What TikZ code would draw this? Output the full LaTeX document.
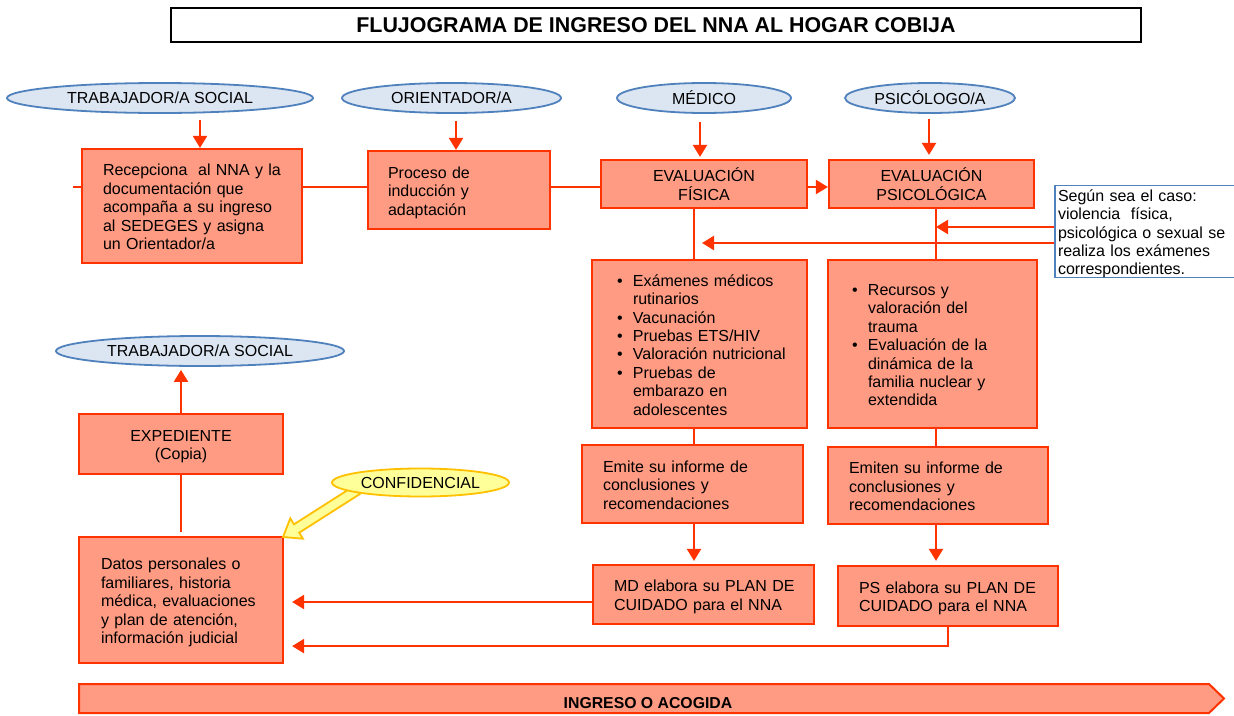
\documentclass[tikz,border=0pt]{standalone}
\usepackage{fontspec}
\setmainfont{Liberation Sans}
\usetikzlibrary{arrows.meta,calc,shapes.geometric}
\definecolor{lred}{HTML}{FF3300}
\definecolor{bfill}{HTML}{FF9B82}
\definecolor{eblue}{HTML}{4F81BD}
\definecolor{efill}{HTML}{DCE6F2}
\definecolor{cyel}{HTML}{FFFF99}
\definecolor{cgold}{HTML}{FFC000}
\newcommand\bitem{\makebox[16pt][l]{\textbullet}}
\newcommand\bcont{\hspace*{16pt}}
\newcommand\txtlines[2][l]{\raisebox{-3pt}[\height][\depth]{\begin{tabular}{@{}#1@{}}#2\end{tabular}}}
\begin{document}
\begin{tikzpicture}[x=1pt,y=-1pt,
  every node/.style={font=\fontsize{16}{18.4}\selectfont},
  box/.style={draw=lred, fill=bfill, line width=2.2pt, inner ysep=0pt, align=left},
  cbox/.style={draw=lred, fill=bfill, line width=2.2pt, inner ysep=0pt, align=center},
  role/.style={ellipse, draw=eblue, fill=efill, line width=1.8pt, inner sep=0pt, minimum height=30pt},
  link/.style={draw=lred, line width=2.2pt},
  arr/.style={draw=lred, line width=2.2pt, -{Triangle[length=12pt,width=14pt]}},
]
\useasboundingbox (0,0) rectangle (1234,715);
\fill[white] (0,0) rectangle (1234,715);
\clip (0,0) rectangle (1234,715);

% title
\node[draw=black, line width=1.6pt, minimum width=970pt, minimum height=34pt, inner sep=0pt,
      font=\bfseries\fontsize{21.4}{25}\selectfont] (title) at (656,25)
      {FLUJOGRAMA DE INGRESO DEL NNA AL HOGAR COBIJA};

% roles
\node[role, minimum width=306pt] (ts1) at (160,98) {TRABAJADOR/A SOCIAL};
\node[role, minimum width=219pt] (ori) at (451.5,98) {ORIENTADOR/A};
\node[role, minimum width=174pt] (med) at (704,98) {MÉDICO};
\node[role, minimum width=170pt] (psi) at (930,98) {PSICÓLOGO/A};
\node[role, minimum width=288pt] (ts2) at (200,351) {TRABAJADOR/A SOCIAL};

% boxes
\node[box, text width=178pt, inner xsep=21pt, minimum height=114pt] (recep) at (192,206)
  {\txtlines{Recepciona~ al NNA y la\\documentación que\\acompaña a su ingreso\\al SEDEGES y asigna\\un Orientador/a}};
\node[box, text width=142pt, inner xsep=20pt, minimum height=78pt] (proc) at (459,190)
  {\txtlines{Proceso de\\inducción y\\adaptación}};
\node[cbox, minimum width=206pt, minimum height=48pt] (fis) at (704,184) {\txtlines[c]{EVALUACIÓN\\FÍSICA}};
\node[cbox, minimum width=205pt, minimum height=48pt] (psic) at (931.5,184) {\txtlines[c]{EVALUACIÓN\\PSICOLÓGICA}};

\node[draw=eblue, line width=1.8pt, fill=white, text width=184pt, inner xsep=3pt, inner ysep=0pt,
      minimum height=91pt, align=left] (note) at (1150,231.5)
  {\txtlines{Según sea el caso:\\violencia~ física,\\psicológica o sexual se\\realiza los exámenes\\correspondientes.}};

\node[box, text width=165pt, inner xsep=25pt, minimum height=168pt] (exam) at (699.5,344)
  {\txtlines{\bitem Exámenes médicos\\\bcont rutinarios\\\bitem Vacunación\\\bitem Pruebas ETS/HIV\\\bitem Valoración nutricional\\\bitem Pruebas de\\\bcont embarazo en\\\bcont adolescentes}};
\node[box, text width=161pt, inner xsep=24pt, minimum height=168pt] (recur) at (932.5,344)
  {\txtlines{\bitem Recursos y\\\bcont valoración del\\\bcont trauma\\\bitem Evaluación de la\\\bcont dinámica de la\\\bcont familia nuclear y\\\bcont extendida}};

\node[box, text width=179pt, inner xsep=21pt, minimum height=78pt] (emite) at (692.5,484)
  {\txtlines{Emite su informe de\\conclusiones y\\recomendaciones}};
\node[box, text width=178pt, inner xsep=21pt, minimum height=77pt] (emiten) at (938,485.5)
  {\txtlines{Emiten su informe de\\conclusiones y\\recomendaciones}};
\node[box, text width=179pt, inner xsep=21pt, minimum height=59pt] (md) at (703.5,594.5)
  {\txtlines{MD elabora su PLAN DE\\CUIDADO para el NNA}};
\node[box, text width=178pt, inner xsep=21pt, minimum height=60pt] (ps) at (948,596)
  {\txtlines{PS elabora su PLAN DE\\CUIDADO para el NNA}};

\node[cbox, minimum width=204pt, minimum height=60pt] (exp) at (181,444) {\txtlines[c]{EXPEDIENTE\\(Copia)}};
\node[box, text width=160pt, inner xsep=22pt, minimum height=126pt] (datos) at (181,600)
  {\txtlines{Datos personales o\\familiares, historia\\médica, evaluaciones\\y plan de atención,\\información judicial}};

% bottom banner
\filldraw[fill=bfill, draw=lred, line width=2pt] (79,684) -- (1209,684) -- (1224,698.5) -- (1209,713) -- (79,713) -- cycle;
\node[font=\bfseries\fontsize{15.8}{18}\selectfont] (ingreso) at (648,703) {INGRESO O ACOGIDA};

% connectors
\coordinate (hl) at (73,187);
\draw[link] (hl) -- (hl -| recep.west);
\draw[link] (recep.east |- hl) -- (proc.west |- hl);
\draw[link] (proc.east |- hl) -- (fis.west |- hl);
\draw[arr] (fis.east |- hl) -- (psic.west |- hl);

\draw[arr, shorten <=6pt] ([xshift=8pt]recep.north |- ts1.south) -- ([xshift=8pt]recep.north);
\draw[arr, shorten <=7pt] ([xshift=-3pt]proc.north |- ori.south) -- ([xshift=-3pt]proc.north);
\draw[arr, shorten <=8pt, shorten >=2pt] ([xshift=-4pt]fis.north |- med.south) -- ([xshift=-4pt]fis.north);
\draw[arr, shorten <=5pt, shorten >=4pt] ([xshift=-2.5pt]psic.north |- psi.south) -- ([xshift=-2.5pt]psic.north);

\coordinate (fv) at ([xshift=-10pt]fis.south);
\coordinate (pv) at ([xshift=4.5pt]psic.south);
\draw[link] (fv) -- (fv |- exam.north);
\draw[link] (pv) -- (pv |- recur.north);

\path ($(note.west)+(0,-4.5)$) coordinate (na);
\path ($(note.west)+(0,11.5)$) coordinate (nb);
\draw[arr] (na) -- (na -| pv);
\draw[arr, shorten >=8pt] (nb) -- (nb -| fv);

\draw[link] (fv |- exam.south) -- (fv |- emite.north);
\draw[link] (pv |- recur.south) -- (pv |- emiten.north);
\draw[arr, shorten >=3pt] (fv |- emite.south) -- (fv |- md.north);
\draw[arr, shorten >=4pt] (pv |- emiten.south) -- (pv |- ps.north);

\path ($(md.west)+(0,7.5)$) coordinate (ma);
\draw[arr, shorten >=8pt] (ma) -- (ma -| datos.east);
\path ($(datos.south)+(0,-18)$) coordinate (pb);
\draw[arr, shorten >=8pt] (ps.south) -- (ps.south |- pb) -- (datos.east |- pb);

\draw[arr, shorten >=3pt] (exp.north) -- (exp.north |- ts2.south);
\draw[link, shorten >=4pt] (exp.south) -- (datos.north);

% confidencial
\filldraw[fill=cyel, draw=cgold, line width=1.8pt, line join=miter]
  (354.4,485.8) -- (294.0,524.3) -- (290.3,518.3) -- (283,537) -- (302.9,538.7) -- (299.2,532.7) -- (359.6,494.2) -- cycle;
\node[ellipse, draw=cgold, fill=cyel, line width=1.8pt, inner sep=0pt, minimum width=177pt, minimum height=28pt] (conf) at (420.5,482.5) {CONFIDENCIAL};
\end{tikzpicture}
\end{document}
